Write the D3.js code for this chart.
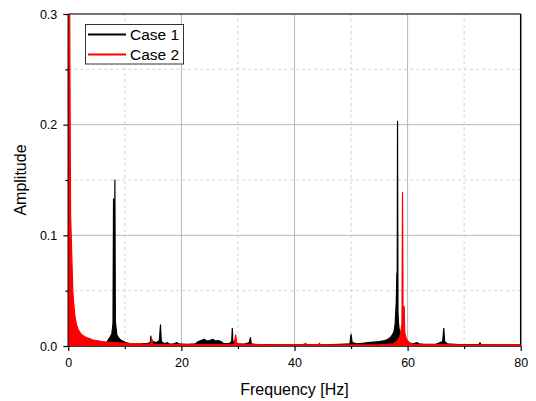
<!DOCTYPE html>
<html>
<head>
<meta charset="utf-8">
<script src="https://cdn.jsdelivr.net/npm/d3@7"></script>
<style>
  html, body { margin:0; padding:0; background:#fff; }
  svg { display:block; font-family: "Liberation Sans", Arial, sans-serif; }
</style>
</head>
<body>
<svg id="chart" width="536" height="401"></svg>
<script>
// spectrum values: [frequency Hz, amplitude]
const case1 = [
  [0,0.003],[0.5,0.004],[1,0.003],[2,0.002],[3,0.002],[4,0.0018],[5,0.0016],[6,0.002],
  [6.8,0.003],[7.1,0.006],[7.4,0.008],[7.7,0.011],[7.9,0.02],[8.0,0.133],[8.08,0.02],
  [8.15,0.03],[8.24,0.150],[8.32,0.022],[8.45,0.016],[8.6,0.01],[8.8,0.008],[9.1,0.006],
  [9.4,0.005],[9.8,0.004],[10.2,0.003],[11,0.002],[12,0.0018],[13,0.002],[14,0.0025],
  [14.5,0.003],[14.6,0.009],[14.7,0.003],[15,0.004],[15.5,0.003],[16.1,0.005],[16.3,0.019],
  [16.45,0.004],[17,0.002],[17.5,0.003],[17.8,0.002],[18.5,0.0018],[19.2,0.003],[19.5,0.002],
  [21,0.0015],[22.5,0.002],[23,0.004],[23.5,0.005],[24,0.006],[24.5,0.0045],[25,0.005],
  [25.6,0.006],[26,0.0045],[26.5,0.005],[27,0.004],[27.5,0.002],[28.5,0.0025],[28.9,0.004],
  [29.0,0.016],[29.1,0.004],[29.5,0.003],[30,0.002],[31,0.0015],[32.0,0.003],[32.2,0.0075],
  [32.35,0.002],[33,0.0015],[35,0.0012],[38,0.001],[41.5,0.0012],[42,0.002],[42.2,0.0012],
  [45,0.001],[48,0.0015],[49.8,0.002],[50.0,0.0105],[50.2,0.003],[51,0.002],[52,0.0025],
  [53,0.003],[54,0.0035],[55,0.004],[56,0.005],[56.5,0.006],[57,0.008],[57.3,0.01],
  [57.6,0.013],[57.8,0.02],[58.0,0.04],[58.1,0.066],[58.15,0.03],[58.22,0.203],[58.3,0.03],
  [58.4,0.02],[58.6,0.012],[58.9,0.006],[59.3,0.004],[60,0.003],[61,0.002],[61.7,0.003],
  [62,0.002],[63,0.0015],[65,0.0015],[66.2,0.004],[66.4,0.016],[66.55,0.004],[67,0.002],
  [69,0.0012],[72.6,0.0012],[72.8,0.003],[73,0.0012],[76,0.001],[80,0.001]
];
const case2 = [
  [0,0.34],[0.25,0.30],[0.4,0.12],[0.6,0.084],[0.8,0.05],[0.95,0.039],[1.2,0.026],
  [1.5,0.018],[1.8,0.0144],[2.2,0.011],[3,0.008],[4.4,0.0054],[6,0.004],[8,0.003],
  [10,0.0025],[12,0.002],[14.5,0.0015],[14.8,0.006],[15.0,0.0015],[20,0.0012],[29.3,0.0015],
  [29.6,0.01],[29.8,0.002],[35,0.001],[44.2,0.001],[44.4,0.0025],[44.6,0.001],[55,0.001],
  [57.5,0.002],[58.3,0.005],[58.7,0.01],[59.0,0.02],[59.1,0.1386],[59.2,0.02],[59.4,0.0355],
  [59.5,0.012],[59.8,0.006],[60.3,0.003],[61,0.0015],[70,0.001],[80,0.001]
];
const seriesNames = ["Case 1", "Case 2"];
const seriesColors = ["#000000", "#ff0000"];

const xMajor = [0, 20, 40, 60, 80];
const xMinor = [10, 30, 50, 70];
const yMajor = [0, 0.1, 0.2, 0.3];
const yMinor = [0.05, 0.15, 0.25];

const xTitle = "Frequency [Hz]";
const yTitle = "Amplitude";

// layout
const W = 536, H = 401;
const m = {l:68.3, r:15.3, t:14, b:55};
const svg = d3.select('#chart');

const x = d3.scaleLinear().domain([0, 80]).range([m.l, W - m.r]);
const y = d3.scaleLinear().domain([0, 0.3]).range([H - m.b, m.t]);

// grid
const grid = svg.append('g');
grid.selectAll('.gxm').data(xMinor).enter().append('line')
  .attr('x1', d=>x(d)).attr('x2', d=>x(d)).attr('y1', y(0)).attr('y2', y(0.3))
  .attr('stroke', '#d3d3d3').attr('stroke-dasharray', '3,3');
grid.selectAll('.gym').data(yMinor).enter().append('line')
  .attr('x1', x(0)).attr('x2', x(80)).attr('y1', d=>y(d)).attr('y2', d=>y(d))
  .attr('stroke', '#d3d3d3').attr('stroke-dasharray', '3,3');
grid.selectAll('.gx').data(xMajor.slice(1, -1)).enter().append('line')
  .attr('x1', d=>x(d)).attr('x2', d=>x(d)).attr('y1', y(0)).attr('y2', y(0.3))
  .attr('stroke', '#b8b8b8');
grid.selectAll('.gy').data(yMajor.slice(1, -1)).enter().append('line')
  .attr('x1', x(0)).attr('x2', x(80)).attr('y1', d=>y(d)).attr('y2', d=>y(d))
  .attr('stroke', '#b8b8b8');

// axes
const fmtY = d3.format('.1f');
const gx = svg.append('g').attr('transform', `translate(0,${y(0)})`)
  .call(d3.axisBottom(x).tickValues(xMajor).tickSize(5).tickSizeOuter(0).tickPadding(7));
const gxm = svg.append('g').attr('transform', `translate(0,${y(0)})`)
  .call(d3.axisBottom(x).tickValues(xMinor).tickSize(3).tickFormat(''));
const gy = svg.append('g').attr('transform', `translate(${x(0)},0)`)
  .call(d3.axisLeft(y).tickValues(yMajor).tickFormat(fmtY).tickSize(5).tickSizeOuter(0).tickPadding(6));
const gym = svg.append('g').attr('transform', `translate(${x(0)},0)`)
  .call(d3.axisLeft(y).tickValues(yMinor).tickSize(3).tickFormat(''));
[gx, gxm, gy, gym].forEach(g=>{
  g.select('.domain').remove();
  g.selectAll('line').attr('stroke', '#000').attr('stroke-width', 1.2);
  g.selectAll('text').attr('font-size', 12.5).attr('fill', '#000')
    .attr('font-family', '"Liberation Sans", Arial, sans-serif');
});

// frame
svg.append('line').attr('x1', x(0)).attr('x2', x(80)).attr('y1', y(0.3)).attr('y2', y(0.3))
  .attr('stroke', '#444').attr('stroke-width', 1.5);
svg.append('line').attr('x1', x(80)).attr('x2', x(80)).attr('y1', y(0.3)).attr('y2', y(0))
  .attr('stroke', '#000').attr('stroke-width', 1.5);
svg.append('line').attr('x1', x(0)).attr('x2', x(80)).attr('y1', y(0)).attr('y2', y(0))
  .attr('stroke', '#000').attr('stroke-width', 1.5);
svg.append('line').attr('x1', x(0)).attr('x2', x(0)).attr('y1', y(0.3)).attr('y2', y(0))
  .attr('stroke', '#000').attr('stroke-width', 1.5);

// data
svg.append('clipPath').attr('id', 'clip').append('rect')
  .attr('x', x(0)).attr('y', y(0.3)).attr('width', x(80) - x(0)).attr('height', y(0) - y(0.3));
const plot = svg.append('g').attr('clip-path', 'url(#clip)');
const area = d3.area().x(d=>x(d[0])).y0(y(0)).y1(d=>y(d[1]));
const line = d3.line().x(d=>x(d[0])).y(d=>y(d[1]));
[case1, case2].forEach((s, i)=>{
  plot.append('path').attr('d', area(s)).attr('fill', seriesColors[i]);
  plot.append('path').attr('d', line(s)).attr('fill', 'none')
    .attr('stroke', seriesColors[i]).attr('stroke-width', 1.2).attr('stroke-linejoin', 'round');
});

// titles
svg.append('text').attr('x', (x(0) + x(80)) / 2).attr('y', 395)
  .attr('text-anchor', 'middle').attr('font-size', 16).text(xTitle);
svg.append('text').attr('transform', `translate(26,${(y(0) + y(0.3)) / 2}) rotate(-90)`)
  .attr('text-anchor', 'middle').attr('font-size', 16).text(yTitle);

// legend
const lg = svg.append('g');
lg.append('rect').attr('x', 85.5).attr('y', 24.5).attr('width', 98).attr('height', 39.5)
  .attr('fill', '#fff').attr('stroke', '#333').attr('stroke-width', 1);
seriesNames.forEach((n, i)=>{
  const yy = 34.5 + i * 20;
  lg.append('line').attr('x1', 88).attr('x2', 126).attr('y1', yy).attr('y2', yy)
    .attr('stroke', seriesColors[i]).attr('stroke-width', 1.8);
  lg.append('text').attr('x', 130).attr('y', yy).attr('dy', '0.36em')
    .attr('font-size', 15.5).text(n);
});
</script>
</body>
</html>
